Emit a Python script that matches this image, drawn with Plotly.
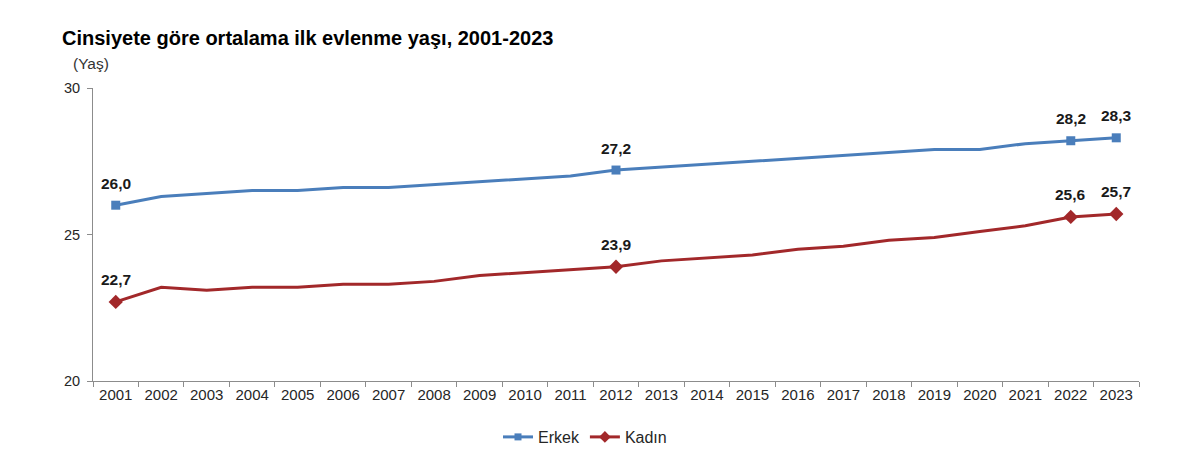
import plotly.graph_objects as go

years = [str(y) for y in range(2001, 2024)]
erkek = [26.0, 26.3, 26.4, 26.5, 26.5, 26.6, 26.6, 26.7, 26.8, 26.9, 27.0, 27.2,
         27.3, 27.4, 27.5, 27.6, 27.7, 27.8, 27.9, 27.9, 28.1, 28.2, 28.3]
kadin = [22.7, 23.2, 23.1, 23.2, 23.2, 23.3, 23.3, 23.4, 23.6, 23.7, 23.8, 23.9,
         24.1, 24.2, 24.3, 24.5, 24.6, 24.8, 24.9, 25.1, 25.3, 25.6, 25.7]
labeled_years = ["2001", "2012", "2022", "2023"]

title = "Cinsiyete göre ortalama ilk evlenme yaşı, 2001-2023"
y_unit = "(Yaş)"
yticks = [20, 25, 30]

BLUE = "#4A7EBB"
RED = "#A2282A"
FONT = "Liberation Sans"

def fmt(v):
    return f"{v:.1f}".replace(".", ",")

fig = go.Figure()

series = [("Erkek", erkek, BLUE, "square", 9, 7), ("Kadın", kadin, RED, "diamond", 11, 9)]
for name, vals, col, sym, msz, lsz in series:
    # the line
    fig.add_trace(go.Scatter(x=years, y=vals, mode="lines", line=dict(color=col, width=3),
                             showlegend=False, hoverinfo="skip"))
    # markers on labeled years
    idx = [i for i, y in enumerate(years) if y in labeled_years]
    lx = [years[i] for i in idx]
    ly = [vals[i] for i in idx]
    fig.add_trace(go.Scatter(x=lx, y=ly, mode="markers",
                             marker=dict(symbol=sym, size=msz, color=col),
                             showlegend=False))
    for i in idx:
        fig.add_annotation(x=i, y=vals[i], xref="x", yref="y",
                           text=f"<b>{fmt(vals[i])}</b>", showarrow=False,
                           yshift=22, font=dict(family=FONT, size=15.5, color="#1a1a1a"))
    # legend entry
    fig.add_trace(go.Scatter(x=[None], y=[None], mode="lines+markers", name=name,
                             line=dict(color=col, width=3),
                             marker=dict(symbol=sym, size=lsz, color=col)))

fig.add_annotation(text=y_unit, xref="paper", yref="paper", x=(71 - 93) / 1046, y=(381 - 64) / 293,
                   xanchor="left", yanchor="middle", showarrow=False,
                   font=dict(family=FONT, size=15.5, color="#333333"))

fig.update_layout(
    width=1200, height=466,
    paper_bgcolor="white", plot_bgcolor="white",
    margin=dict(l=93, r=61, t=88, b=85),
    title=dict(text=f"<b>{title}</b>", x=62/1200, xanchor="left", y=1-38/466,
               yanchor="middle", xref="container", yref="container",
               font=dict(family=FONT, size=20, color="black")),
    font=dict(family=FONT, color="#262626"),
    legend=dict(orientation="h", x=(585 - 93) / 1046, xanchor="center", y=-(437 - 381) / 293,
                yanchor="middle",
                font=dict(family=FONT, size=16, color="#262626"), bgcolor="rgba(0,0,0,0)"),
    xaxis=dict(type="category", range=[-0.5, 22.5], showgrid=False, showline=True,
               linecolor="#8C8C8C", linewidth=1, ticks="outside", tickson="boundaries",
               ticklen=5, tickcolor="#8C8C8C", tickfont=dict(family=FONT, size=15, color="#262626"),
               zeroline=False),
    yaxis=dict(range=[20, 30], tickvals=yticks, showgrid=False, showline=True,
               linecolor="#8C8C8C", linewidth=1, ticks="outside", ticklen=5,
               tickcolor="#8C8C8C", tickfont=dict(family=FONT, size=14.5, color="#262626"),
               ticklabelstandoff=4, zeroline=False),
)

fig.write_html("out.html", config={"displayModeBar": False},
               post_script="document.body.style.margin='0';document.body.style.padding='0';"
                           "document.body.style.overflow='hidden';")
